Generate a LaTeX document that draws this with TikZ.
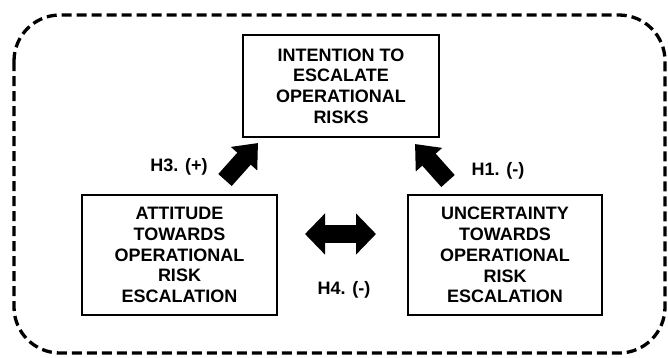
\documentclass[tikz,border=0pt]{standalone}
\usepackage{fontspec}
\setmainfont{Liberation Sans}
\usetikzlibrary{arrows.meta}
\begin{document}
\begin{tikzpicture}[x=1pt,y=-1pt,
  box/.style={draw=black, line width=1.5pt, align=center, inner sep=0pt,
    font=\fontsize{18}{20.8}\selectfont\bfseries},
  lbl/.style={font=\fontsize{18}{20.8}\selectfont\bfseries, inner sep=0pt},
  blockarrow/.style={line width=18pt, -{Triangle[length=21pt,width=34pt]}},
  dblarrow/.style={line width=18pt, {Triangle[length=20pt,width=40pt]}-{Triangle[length=20pt,width=40pt]}},
  frame/.style={line width=3.3pt, dash pattern=on 10pt off 5pt, rounded corners=46pt}]
\useasboundingbox (0,0) rectangle (668,357);
\fill[white] (0,0) rectangle (668,357);
\draw[frame] (14,15) rectangle (665,353);
\node[box, minimum width=196pt, minimum height=102pt] (int) at (341,86)
  {INTENTION TO\\ESCALATE\\OPERATIONAL\\RISKS};
\node[box, minimum width=195pt, minimum height=120pt] (att) at (179.5,255)
  {ATTITUDE\\TOWARDS\\OPERATIONAL\\RISK\\ESCALATION};
\node[box, minimum width=194pt, minimum height=120pt] (unc) at (505,255)
  {UNCERTAINTY\\TOWARDS\\OPERATIONAL\\RISK\\ESCALATION};
\coordinate (h3s) at (225,180);
\coordinate (h3e) at (258,143);
\coordinate (h1s) at (448,181);
\coordinate (h1e) at (415,144);
\coordinate (h4s) at (305,234);
\coordinate (h4e) at (376,234);
\draw[blockarrow] (h3s) -- (h3e);
\draw[blockarrow] (h1s) -- (h1e);
\draw[dblarrow] (h4s) -- (h4e);
\node[lbl] (l3) at (179,167) {H3. (+)};
\node[lbl] (l1) at (498,171) {H1. (-)};
\node[lbl] (l4) at (344,290) {H4. (-)};
\end{tikzpicture}
\end{document}
